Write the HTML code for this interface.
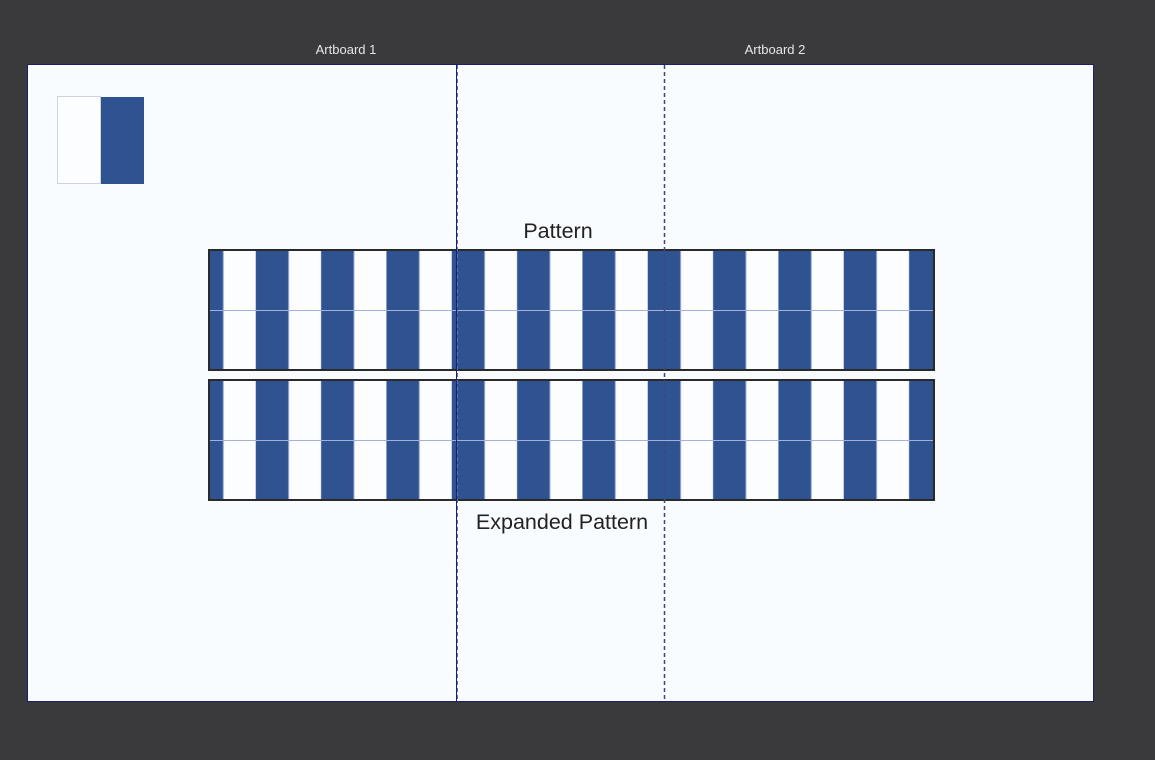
<!DOCTYPE html>
<html><head><meta charset="utf-8"><style>
html,body{margin:0;padding:0;background:#3a3a3c;width:1155px;height:760px;overflow:hidden}
svg{display:block}
</style></head><body>
<svg width="1155" height="760" xmlns="http://www.w3.org/2000/svg">
<defs>
<pattern id="st" x="190.7" y="0" width="65.33" height="760" patternUnits="userSpaceOnUse">
<rect x="0" y="0" width="65.33" height="760" fill="#fbfdff"/>
<rect x="0" y="0" width="32.6" height="760" fill="#2f5391"/>
<rect x="32.1" y="0" width="1" height="760" fill="#9aa6d4"/>
<rect x="64.8" y="0" width="1" height="760" fill="#9aa6d4"/>
</pattern>
</defs>
<rect x="0" y="0" width="1155" height="760" fill="#3a3a3c"/>
<text x="346" y="54" font-family="Liberation Sans, sans-serif" font-size="13" fill="#e6e6e6" text-anchor="middle">Artboard 1</text>
<text x="775" y="54" font-family="Liberation Sans, sans-serif" font-size="13" fill="#e6e6e6" text-anchor="middle">Artboard 2</text>
<rect x="27.5" y="64.5" width="1066" height="637" fill="#f8fcfe" stroke="#1b1f6e" stroke-width="1"/>
<rect x="57.5" y="96.5" width="43" height="87" fill="#fbfdff" stroke="#cfd2e0" stroke-width="1"/>
<rect x="101" y="97" width="43" height="87" fill="#2f5391"/>
<text x="558" y="238" font-family="Liberation Sans, sans-serif" font-size="21.5" fill="#222" text-anchor="middle">Pattern</text>
<text x="562" y="529" font-family="Liberation Sans, sans-serif" font-size="21.5" fill="#222" text-anchor="middle">Expanded Pattern</text>
<rect x="209" y="250" width="725" height="120" fill="url(#st)"/>
<rect x="209" y="380" width="725" height="120" fill="url(#st)"/>
<line x1="210" y1="310.5" x2="933" y2="310.5" stroke="#a6aedc" stroke-width="1"/>
<line x1="210" y1="440.5" x2="933" y2="440.5" stroke="#a6aedc" stroke-width="1"/>
<rect x="209" y="250" width="725" height="120" fill="none" stroke="#2a2a2a" stroke-width="2"/>
<rect x="209" y="380" width="725" height="120" fill="none" stroke="#2a2a2a" stroke-width="2"/>
<line x1="456.5" y1="65" x2="456.5" y2="701" stroke="#1b1f6e" stroke-width="1"/>
<line x1="457.5" y1="65" x2="457.5" y2="701" stroke="#6670a8" stroke-width="1" stroke-dasharray="4,3"/>
<line x1="664.5" y1="65" x2="664.5" y2="701" stroke="#3d4680" stroke-width="1.5" stroke-dasharray="4,3"/>
</svg>
</body></html>
